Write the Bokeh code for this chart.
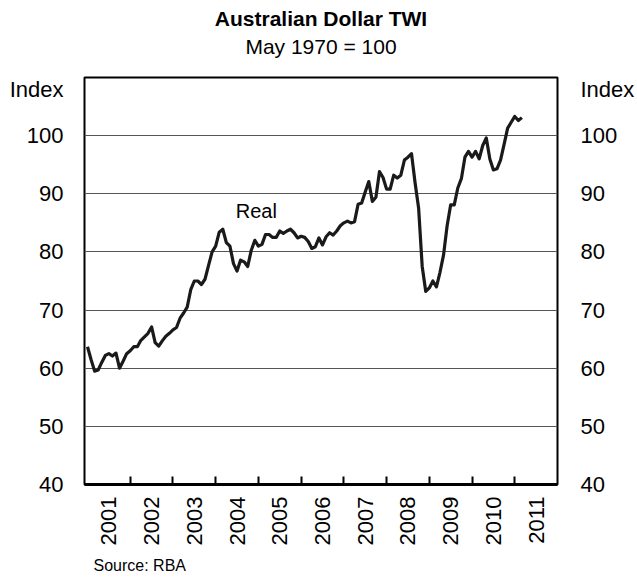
import math
from bokeh.plotting import figure
from bokeh.models import (Range1d, LinearAxis, FixedTicker, PrintfTickFormatter,
                          Label, Title, ColumnDataSource)
from bokeh.embed import file_html
from bokeh.resources import INLINE

# ---- data (monthly, Jan 2001 - Mar 2011) ----
start_year = 2001
real_twi = [
    63.7, 61.5, 59.5, 59.7, 61.0, 62.2, 62.5, 62.1, 62.6, 60.0, 61.2, 62.5,   # 2001
    63.0, 63.7, 63.7, 64.8, 65.4, 66.0, 67.1, 64.4, 63.8, 64.7, 65.5, 66.0,   # 2002
    66.6, 67.0, 68.6, 69.5, 70.5, 73.5, 75.0, 75.0, 74.4, 75.3, 77.7, 80.0,   # 2003
    81.0, 83.4, 83.9, 81.6, 81.0, 78.0, 76.7, 78.6, 78.3, 77.5, 80.3, 82.0,   # 2004
    81.0, 81.3, 83.0, 83.0, 82.5, 82.5, 83.6, 83.2, 83.6, 83.9, 83.3, 82.4,   # 2005
    82.7, 82.5, 81.8, 80.6, 80.9, 82.4, 81.2, 82.6, 83.3, 82.9, 83.6, 84.5,   # 2006
    85.0, 85.3, 85.0, 85.2, 88.2, 88.4, 90.3, 92.1, 88.7, 89.4, 93.8, 92.8,   # 2007
    90.8, 90.8, 93.2, 92.7, 93.2, 95.8, 96.3, 96.9, 91.9, 87.5, 77.5, 73.2,   # 2008
    73.8, 75.0, 74.0, 76.5, 79.5, 84.5, 88.1, 88.1, 91.0, 92.6, 96.3, 97.3,   # 2009
    96.3, 97.3, 96.0, 98.3, 99.6, 96.0, 94.1, 94.3, 95.8, 98.5, 101.3, 102.3, # 2010
    103.3, 102.6, 103.1,                                                       # 2011
]
dates = [start_year + i / 12 for i in range(len(real_twi))]

year_labels = list(range(2001, 2012))
y_ticks = [40, 50, 60, 70, 80, 90, 100]
unit_label = "Index"
unit_label_pos = 108
y_min, y_max = 40, 110
x_min, x_max = 2000.93, 2012.0

FONT = "Liberation Sans"

p = figure(width=637, height=580, output_backend="svg", toolbar_location=None,
           title=None,
           x_range=Range1d(x_min, x_max), y_range=Range1d(y_min, y_max),
           min_border_left=84, min_border_right=76, min_border_top=77,
           min_border_bottom=96, x_axis_location=None, y_axis_location=None)
p.background_fill_color = "white"
p.border_fill_color = "white"
p.outline_line_color = "black"
p.outline_line_width = 2

# titles
p.add_layout(Title(text="May 1970 = 100", align="center", vertical_align="top",
                   text_font=FONT, text_font_size="21px",
                   text_font_style="normal", text_color="black", standoff=36),
             "above")
p.add_layout(Title(text="Australian Dollar TWI", align="center",
                   vertical_align="bottom", text_font=FONT,
                   text_font_size="21px", text_font_style="bold",
                   text_color="black", standoff=-26), "above")

# gridlines
p.xgrid.visible = False
p.ygrid.ticker = FixedTicker(ticks=y_ticks)
p.ygrid.grid_line_color = "#555555"
p.ygrid.grid_line_width = 1.2

# y axes (with the unit label as an extra tick near the top)
for side in ("left", "right"):
    ax = LinearAxis(ticker=FixedTicker(ticks=y_ticks + [unit_label_pos]))
    ax.major_label_overrides = {unit_label_pos: unit_label}
    ax.axis_line_color = None
    ax.major_tick_line_color = None
    ax.minor_tick_line_color = None
    ax.major_label_text_font = FONT
    ax.major_label_text_font_size = "22px"
    ax.major_label_text_color = "black"
    ax.major_label_standoff = 15 if side == "left" else 17
    p.add_layout(ax, side)

# x axis: labels between year boundaries, ticks at year boundaries (inward)
xax = LinearAxis(ticker=FixedTicker(ticks=[y + 0.5 for y in year_labels],
                                    minor_ticks=year_labels[1:]),
                 formatter=PrintfTickFormatter(format="%d"))
xax.axis_line_color = "black"
xax.axis_line_width = 3
xax.major_tick_line_color = None
xax.minor_tick_line_color = "black"
xax.minor_tick_line_width = 2
xax.minor_tick_in = 8
xax.minor_tick_out = 0
xax.major_label_orientation = math.pi / 2
xax.major_label_text_font = FONT
xax.major_label_text_font_size = "22px"
xax.major_label_text_color = "black"
xax.major_label_standoff = 6
p.add_layout(xax, "below")

p.add_layout(Title(text="Source: RBA", align="left", offset=9, text_font=FONT,
                   text_font_size="16px", text_font_style="normal",
                   text_color="black", standoff=13), "below")

# series
src = ColumnDataSource(dict(x=dates, y=real_twi))
p.line("x", "y", source=src, line_color="#1a1a1a", line_width=3.2,
       line_join="round")

p.add_layout(Label(x=2004.47, y=87.1, text="Real", text_align="left",
                   text_baseline="middle", text_font=FONT,
                   text_font_size="20px", text_color="black"))

open("out.html", "w").write(file_html(p, INLINE))
